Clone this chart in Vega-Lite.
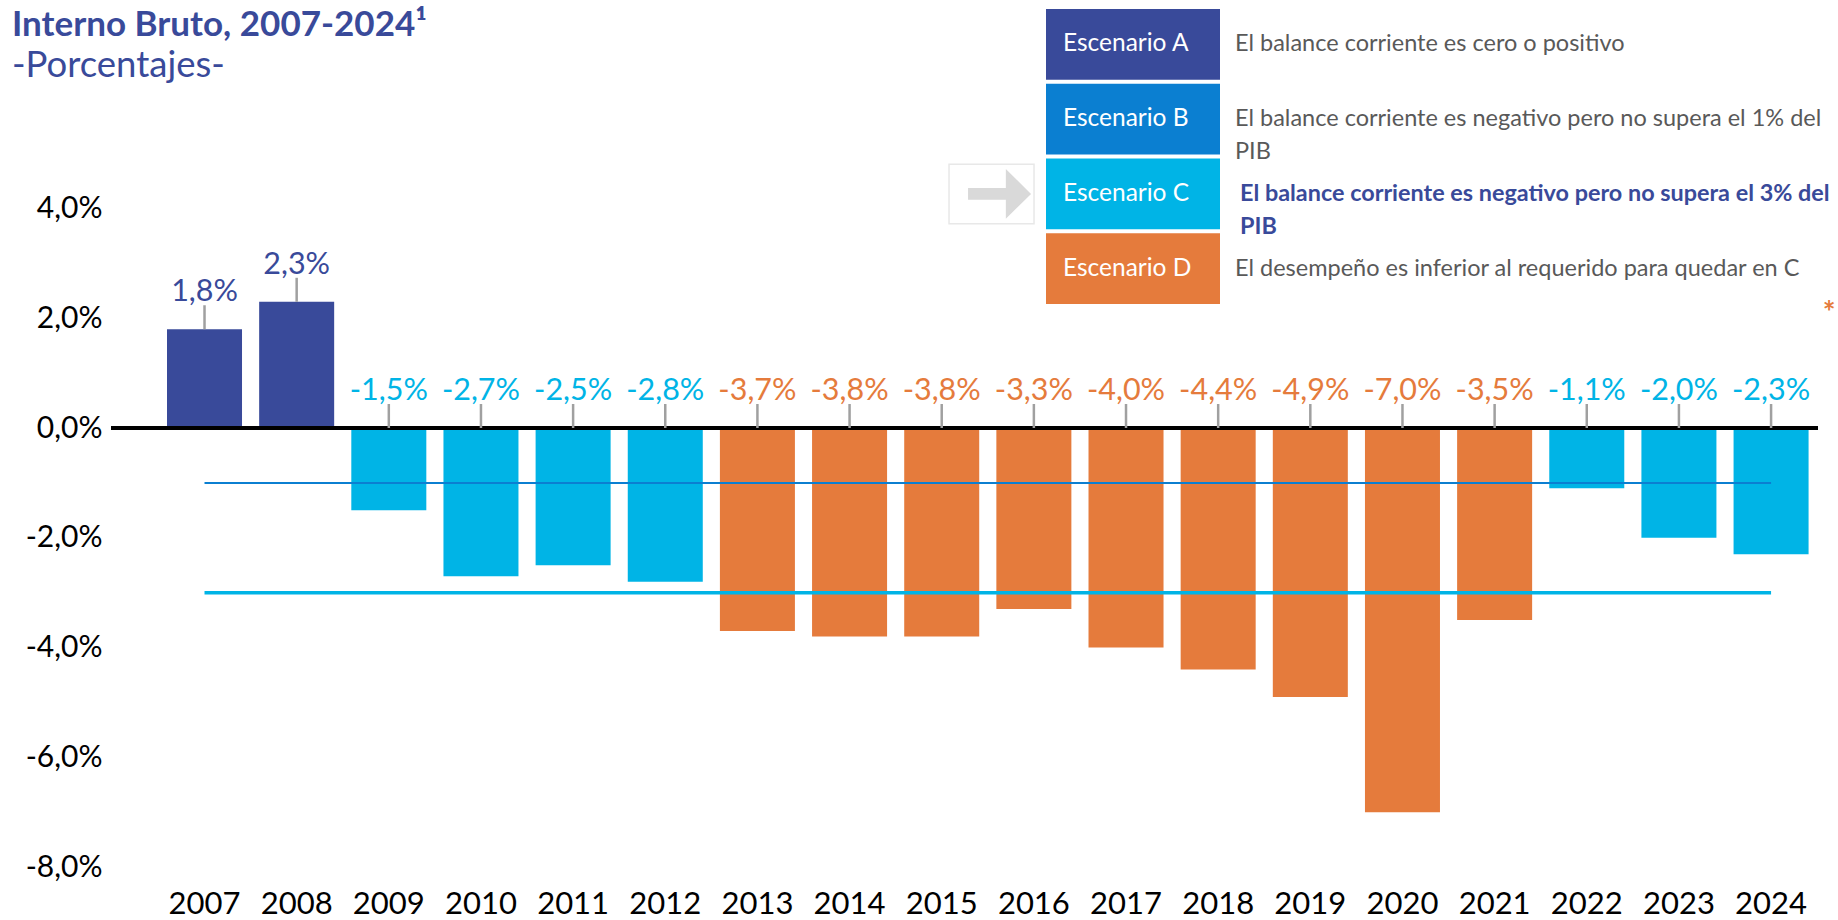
{
  "$schema": "https://vega.github.io/schema/vega-lite/v6.json",
  "width": 1707,
  "height": 867,
  "autosize": {"type": "none"},
  "padding": {"left": 111, "top": 0, "right": 20, "bottom": 53},
  "config": {
    "view": {"stroke": null},
    "font": "Lato",
    "locale": {"number": {"decimal": ",", "thousands": ".", "grouping": [3], "currency": ["", " €"], "minus": "-"}}
  },
  "title": {
    "text": "Interno Bruto, 2007-2024¹",
    "subtitle": "-Porcentajes-",
    "anchor": "start",
    "frame": "group",
    "orient": "top",
    "offset": -84,
    "dx": -99,
    "font": "Lato",
    "fontSize": 35,
    "fontWeight": "bold",
    "color": "#394a9a",
    "subtitleFont": "Lato",
    "subtitleFontSize": 36.5,
    "subtitleColor": "#394a9a",
    "subtitleFontWeight": "normal",
    "subtitlePadding": 5
  },
  "layer": [
    {
      "data": {"values": [
        {"anio": "2007", "saldo": 0.018, "esc": "Escenario A"},
        {"anio": "2008", "saldo": 0.023, "esc": "Escenario A"},
        {"anio": "2009", "saldo": -0.015, "esc": "Escenario C"},
        {"anio": "2010", "saldo": -0.027, "esc": "Escenario C"},
        {"anio": "2011", "saldo": -0.025, "esc": "Escenario C"},
        {"anio": "2012", "saldo": -0.028, "esc": "Escenario C"},
        {"anio": "2013", "saldo": -0.037, "esc": "Escenario D"},
        {"anio": "2014", "saldo": -0.038, "esc": "Escenario D"},
        {"anio": "2015", "saldo": -0.038, "esc": "Escenario D"},
        {"anio": "2016", "saldo": -0.033, "esc": "Escenario D"},
        {"anio": "2017", "saldo": -0.040, "esc": "Escenario D"},
        {"anio": "2018", "saldo": -0.044, "esc": "Escenario D"},
        {"anio": "2019", "saldo": -0.049, "esc": "Escenario D"},
        {"anio": "2020", "saldo": -0.070, "esc": "Escenario D"},
        {"anio": "2021", "saldo": -0.035, "esc": "Escenario D"},
        {"anio": "2022", "saldo": -0.011, "esc": "Escenario C"},
        {"anio": "2023", "saldo": -0.020, "esc": "Escenario C"},
        {"anio": "2024", "saldo": -0.023, "esc": "Escenario C"}
      ]},
      "layer": [
        {
          "mark": {"type": "bar"},
          "encoding": {
            "x": {
              "field": "anio", "type": "nominal",
              "scale": {"type": "band", "paddingInner": 0.186, "paddingOuter": 0.355, "align": 0.856, "round": false},
              "axis": {"title": null, "labelAngle": 0, "labelFontSize": 31, "labelColor": "#000000", "labelFont": "Lato", "domain": false, "ticks": false, "tickSize": 0, "labelPadding": 46, "labelBaseline": "alphabetic", "grid": false}
            },
            "y": {
              "field": "saldo", "type": "quantitative",
              "scale": {"domain": [-0.08, 0.078], "nice": false, "zero": false},
              "axis": {"title": null, "values": [-0.08, -0.06, -0.04, -0.02, 0, 0.02, 0.04], "format": ".1%", "labelFontSize": 30, "labelColor": "#000000", "labelFont": "Lato", "domain": false, "ticks": false, "tickSize": 0, "labelPadding": 9, "grid": false}
            },
            "color": {
              "field": "esc", "type": "nominal",
              "scale": {"domain": ["Escenario A", "Escenario B", "Escenario C", "Escenario D"], "range": ["#394a9a", "#0b7fd1", "#00b4e6", "#e57b3c"]},
              "legend": null
            }
          }
        },
        {
          "data": {"values": [
            {"umbral": -0.01, "esc": "Escenario B"},
            {"umbral": -0.03, "esc": "Escenario C"}
          ]},
          "mark": {"type": "rule"},
          "encoding": {
            "x": {"datum": "2007", "type": "nominal"},
            "x2": {"datum": "2024"},
            "y": {"field": "umbral", "type": "quantitative"},
            "color": {
              "field": "esc", "type": "nominal",
              "scale": {"domain": ["Escenario A", "Escenario B", "Escenario C", "Escenario D"], "range": ["#394a9a", "#0b7fd1", "#00b4e6", "#e57b3c"]},
              "legend": null
            },
            "strokeWidth": {
              "field": "esc", "type": "nominal",
              "scale": {"domain": ["Escenario B", "Escenario C"], "range": [2, 3.5]},
              "legend": null
            }
          }
        },
        {
          "mark": {"type": "rule", "color": "#000000", "strokeWidth": 3},
          "encoding": {"y": {"datum": 0, "type": "quantitative"}}
        },
        {
          "transform": [{"filter": "datum.saldo >= 0"}],
          "layer": [
            {
              "mark": {"type": "rule", "color": "#a0a0a0", "strokeWidth": 2.5, "y2Offset": -24},
              "encoding": {
                "x": {"field": "anio", "type": "nominal"},
                "y": {"field": "saldo", "type": "quantitative"},
                "y2": {"field": "saldo"}
              }
            },
            {
              "mark": {"type": "text", "dy": -28, "baseline": "alphabetic", "align": "center", "fontSize": 30.5, "font": "Lato"},
              "encoding": {
                "x": {"field": "anio", "type": "nominal"},
                "y": {"field": "saldo", "type": "quantitative"},
                "text": {"field": "saldo", "type": "quantitative", "format": ".1%"},
                "color": {
                  "field": "esc", "type": "nominal",
                  "scale": {"domain": ["Escenario A", "Escenario B", "Escenario C", "Escenario D"], "range": ["#394a9a", "#0b7fd1", "#00b4e6", "#e57b3c"]},
                  "legend": null
                }
              }
            }
          ]
        },
        {
          "transform": [{"filter": "datum.saldo < 0"}],
          "layer": [
            {
              "mark": {"type": "rule", "color": "#a0a0a0", "strokeWidth": 2.5, "y2Offset": -24},
              "encoding": {
                "x": {"field": "anio", "type": "nominal"},
                "y": {"datum": 0, "type": "quantitative"},
                "y2": {"datum": 0}
              }
            },
            {
              "mark": {"type": "text", "dy": -28, "baseline": "alphabetic", "align": "center", "fontSize": 30.5, "font": "Lato"},
              "encoding": {
                "x": {"field": "anio", "type": "nominal"},
                "y": {"datum": 0, "type": "quantitative"},
                "text": {"field": "saldo", "type": "quantitative", "format": ".1%"},
                "color": {
                  "field": "esc", "type": "nominal",
                  "scale": {"domain": ["Escenario A", "Escenario B", "Escenario C", "Escenario D"], "range": ["#394a9a", "#0b7fd1", "#00b4e6", "#e57b3c"]},
                  "legend": null
                }
              }
            }
          ]
        }
      ]
    },
    {
      "data": {"values": [
        {"esc": "Escenario A", "desc": "El balance corriente es cero o positivo"},
        {"esc": "Escenario B", "desc": "El balance corriente es negativo pero no supera el 1% del\nPIB"},
        {"esc": "Escenario C", "desc": "El balance corriente es negativo pero no supera el 3% del\nPIB"},
        {"esc": "Escenario D", "desc": "El desempeño es inferior al requerido para quedar en C"}
      ]},
      "encoding": {
        "y": {
          "field": "esc", "type": "nominal",
          "scale": {"type": "band", "domain": ["Escenario A", "Escenario B", "Escenario C", "Escenario D"], "range": [9, 304], "paddingInner": 0.055, "paddingOuter": 0},
          "axis": null
        }
      },
      "layer": [
        {
          "mark": {"type": "rect"},
          "encoding": {
            "x": {"datum": 0, "type": "quantitative", "scale": {"domain": [0, 1], "range": [935, 1109], "zero": false, "nice": false}, "axis": null},
            "x2": {"datum": 1},
            "color": {
              "field": "esc", "type": "nominal",
              "scale": {"domain": ["Escenario A", "Escenario B", "Escenario C", "Escenario D"], "range": ["#394a9a", "#0b7fd1", "#00b4e6", "#e57b3c"]},
              "legend": null
            }
          }
        },
        {
          "mark": {"type": "text", "align": "left", "baseline": "middle", "dx": 17, "fontSize": 24.5, "font": "Lato", "color": "#ffffff"},
          "encoding": {
            "x": {"datum": 0, "type": "quantitative"},
            "text": {"field": "esc", "type": "nominal"}
          }
        },
        {
          "transform": [{"filter": "datum.esc != 'Escenario C'"}],
          "mark": {"type": "text", "align": "left", "baseline": "middle", "dx": 15, "fontSize": 23.5, "font": "Lato", "color": "#595959", "lineBreak": "\n", "lineHeight": 33},
          "encoding": {
            "x": {"datum": 1, "type": "quantitative"},
            "text": {"field": "desc", "type": "nominal"}
          }
        },
        {
          "transform": [{"filter": "datum.esc == 'Escenario C'"}],
          "mark": {"type": "text", "align": "left", "baseline": "middle", "dx": 20, "fontSize": 23.4, "font": "Lato", "fontWeight": "bold", "color": "#394a9a", "lineBreak": "\n", "lineHeight": 33},
          "encoding": {
            "x": {"datum": 1, "type": "quantitative"},
            "text": {"field": "desc", "type": "nominal"}
          }
        },
        {
          "transform": [{"filter": "datum.esc == 'Escenario C'"}],
          "mark": {"type": "point", "shape": "M-1,-0.7L1,-0.7L1,0.7L-1,0.7Z", "size": 7225, "filled": true, "fill": "#ffffff", "stroke": "#e8e8e8", "strokeWidth": 1.5, "opacity": 1},
          "encoding": {
            "x": {"datum": -0.313, "type": "quantitative"}
          }
        },
        {
          "transform": [{"filter": "datum.esc == 'Escenario C'"}],
          "mark": {"type": "point", "shape": "M-1,-0.19L0.2,-0.19L0.2,-0.79L1,0L0.2,0.79L0.2,0.19L-1,0.19Z", "size": 3969, "filled": true, "color": "#d9d9d9", "opacity": 1},
          "encoding": {
            "x": {"datum": -0.267, "type": "quantitative"}
          }
        },
        {
          "transform": [{"filter": "datum.esc == 'Escenario D'"}],
          "mark": {"type": "text", "text": "*", "fontSize": 30, "font": "Lato", "fontWeight": "bold", "color": "#e57b3c", "dy": 54, "baseline": "alphabetic", "align": "center"},
          "encoding": {
            "x": {"datum": 4.5, "type": "quantitative"}
          }
        }
      ]
    }
  ],
  "resolve": {"scale": {"x": "independent", "y": "independent"}}
}
